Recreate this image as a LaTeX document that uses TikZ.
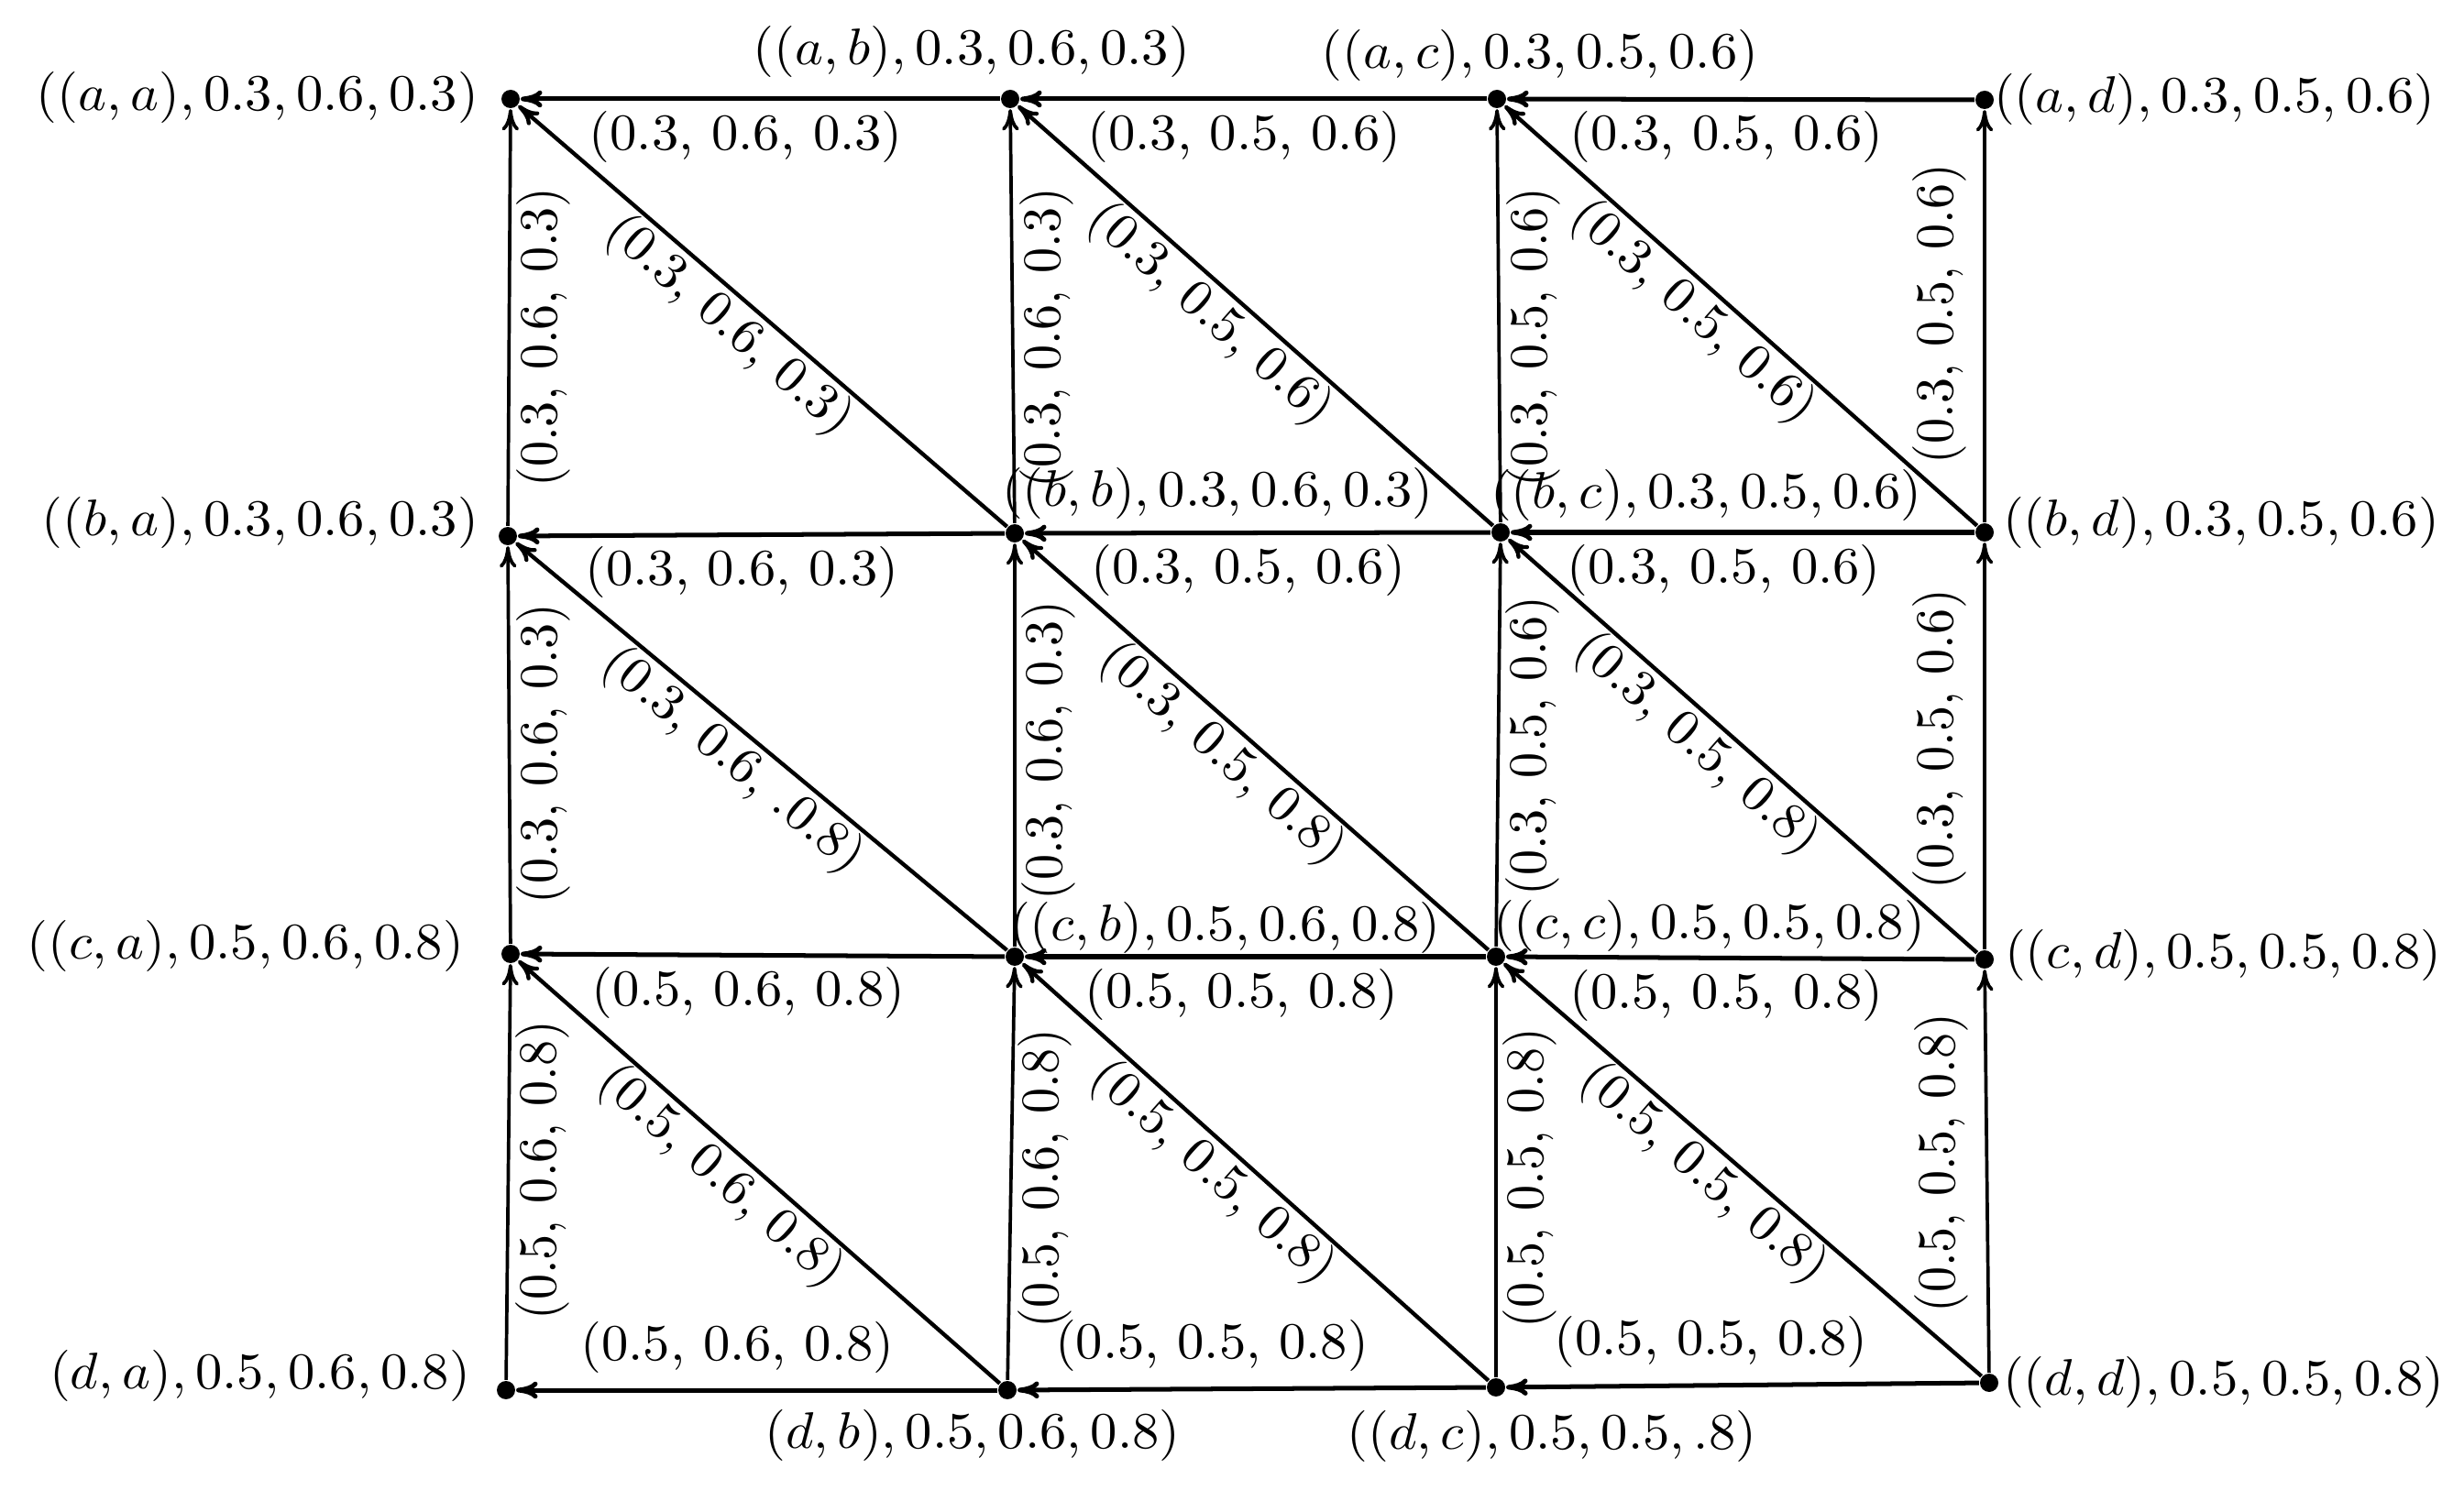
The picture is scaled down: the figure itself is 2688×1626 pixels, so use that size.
\documentclass[tikz,border=0pt]{standalone}
\usetikzlibrary{arrows.meta}
\begin{document}
\begin{tikzpicture}[x=0.006452cm,y=-0.006452cm,
  dot/.style={circle,fill=black,inner sep=0pt,minimum size=0.129cm},
  tip/.style={-{Computer Modern Rightarrow[length=4.3pt,width=3.4pt]}},
  harr/.style={tip,line width=0.92pt},
  varr/.style={tip,line width=0.68pt},
  darr/.style={tip,line width=0.8pt},
  hlab/.style={scale=1.03,xscale=1.045,anchor=north,inner sep=1.9pt},
  hlabup/.style={scale=1.03,xscale=1.045,anchor=south,inner sep=2.9pt},
  vlab/.style={rotate=90,scale=1.03,yscale=1.045,anchor=north,inner sep=1pt},
  vlabl/.style={rotate=90,scale=1.03,yscale=1.045,anchor=south,inner sep=3.1pt},
  dlab/.style={sloped,scale=1.03,xscale=1.03,anchor=north,inner sep=0.3pt},
  nlab/.style={scale=1.03,xscale=1.045,inner sep=0pt}]
\useasboundingbox (0,0) rectangle (2688,1626);

% vertices
\node[dot] (aa) at (557,108) {};
\node[dot] (ab) at (1102,108) {};
\node[dot] (ac) at (1633,108) {};
\node[dot] (ad) at (2165,109) {};
\node[dot] (ba) at (554,585) {};
\node[dot] (bb) at (1107,582) {};
\node[dot] (bc) at (1637,581) {};
\node[dot] (bd) at (2165,581) {};
\node[dot] (ca) at (557,1041) {};
\node[dot] (cb) at (1107,1044) {};
\node[dot] (cc) at (1632,1044) {};
\node[dot] (cd) at (2165,1047) {};
\node[dot] (da) at (552,1517) {};
\node[dot] (db) at (1099,1517) {};
\node[dot] (dc) at (1632,1514) {};
\node[dot] (dd) at (2170,1509) {};

% vertex labels
\node[nlab,anchor=east] (Laa) at (523,106) {$((a,a),0.3,0.6,0.3)$};
\node[nlab] (Lab) at (1060,56) {$((a,b),0.3,0.6,0.3)$};
\node[nlab] (Lac) at (1680,60) {$((a,c),0.3,0.5,0.6)$};
\node[nlab,anchor=west] (Lad) at (2174,108) {$((a,d),0.3,0.5,0.6)$};
\node[nlab,anchor=east] (Lba) at (523,570) {$((b,a),0.3,0.6,0.3)$};
\node[nlab,anchor=west] (Lbb) at (1092,538) {$((b,b),0.3,0.6,0.3)$};
\node[nlab,anchor=west] (Lbc) at (1625,540) {$((b,c),0.3,0.5,0.6)$};
\node[nlab,anchor=west] (Lbd) at (2184,570) {$((b,d),0.3,0.5,0.6)$};
\node[nlab,anchor=east] (Lca) at (507,1032) {$((c,a),0.5,0.6,0.8)$};
\node[nlab,anchor=west] (Lcb) at (1100,1012) {$((c,b),0.5,0.6,0.8)$};
\node[nlab,anchor=west] (Lcc) at (1628,1010) {$((c,c),0.5,0.5,0.8)$};
\node[nlab,anchor=west] (Lcd) at (2186,1042) {$((c,d),0.5,0.5,0.8)$};
\node[nlab,anchor=east] (Lda) at (514,1501) {$(d,a),0.5,0.6,0.8)$};
\node[nlab] (Ldb) at (1061,1566) {$(d,b),0.5,0.6,0.8)$};
\node[nlab] (Ldc) at (1693,1567) {$((d,c),0.5,0.5,.8)$};
\node[nlab,anchor=west] (Ldd) at (2184,1508) {$((d,d),0.5,0.5,0.8)$};

% horizontal edges
\draw[harr] (ab) -- node[hlab,pos=0.53] (h1) {(0.3, 0.6, 0.3)} (aa);
\draw[harr] (ac) -- node[hlab,pos=0.52] (h2) {(0.3, 0.5, 0.6)} (ab);
\draw[harr] (ad) -- node[hlab,pos=0.53] (h3) {(0.3, 0.5, 0.6)} (ac);
\draw[harr] (bb) -- node[hlab,pos=0.54] (h4) {(0.3, 0.6, 0.3)} (ba);
\draw[harr] (bc) -- node[hlab,pos=0.52] (h5) {(0.3, 0.5, 0.6)} (bb);
\draw[harr] (bd) -- node[hlab,pos=0.54] (h6) {(0.3, 0.5, 0.6)} (bc);
\draw[harr] (cb) -- node[hlab,pos=0.53] (h7) {(0.5, 0.6, 0.8)} (ca);
\draw[harr] (cc) -- node[hlab,pos=0.53] (h8) {(0.5, 0.5, 0.8)} (cb);
\draw[harr] (cd) -- node[hlab,pos=0.53] (h9) {(0.5, 0.5, 0.8)} (cc);
\draw[harr] (db) -- node[hlabup,pos=0.54] (h10) {(0.5, 0.6, 0.8)} (da);
\draw[harr] (dc) -- node[hlabup,pos=0.585] (h11) {(0.5, 0.5, 0.8)} (db);
\draw[harr] (dd) -- node[hlabup,pos=0.567] (h12) {(0.5, 0.5, 0.8)} (dc);

% vertical edges
\draw[varr] (ba) -- node[vlab,pos=0.453] (v1) {(0.3, 0.6, 0.3)} (aa);
\draw[varr] (ca) -- node[vlab,pos=0.478] (v2) {(0.3, 0.6, 0.3)} (ba);
\draw[varr] (da) -- node[vlab,pos=0.504] (v3) {(0.5, 0.6, 0.8)} (ca);
\draw[varr] (bb) -- node[vlab,pos=0.448] (v4) {(0.3, 0.6, 0.3)} (ab);
\draw[varr] (cb) -- node[vlab,pos=0.486] (v5) {(0.3, 0.6, 0.3)} (bb);
\draw[varr] (db) -- node[vlab,pos=0.488] (v6) {(0.5, 0.6, 0.8)} (cb);
\draw[varr] (bc) -- node[vlab,pos=0.448] (v7) {(0.3, 0.5, 0.6)} (ac);
\draw[varr] (cc) -- node[vlab,pos=0.497] (v8) {(0.3, 0.5, 0.6)} (bc);
\draw[varr] (dc) -- node[vlab,pos=0.485] (v9) {(0.5, 0.5, 0.8)} (cc);
\draw[varr] (bd) -- node[vlabl,pos=0.505] (v10) {(0.3, 0.5, 0.6)} (ad);
\draw[varr] (cd) -- node[vlabl,pos=0.517] (v11) {(0.3, 0.5, 0.6)} (bd);
\draw[varr] (dd) -- node[vlabl,pos=0.52] (v12) {(0.5, 0.5, 0.8)} (cd);

% diagonal edges
\draw[darr] (bb) -- node[dlab,pos=0.53] (d1) {(0.3, 0.6, 0.3)} (aa);
\draw[darr] (bc) -- node[dlab,pos=0.555] (d2) {(0.3, 0.5, 0.6)} (ab);
\draw[darr] (bd) -- node[dlab,pos=0.56] (d3) {(0.3, 0.5, 0.6)} (ac);
\draw[darr] (cb) -- node[dlab,pos=0.52] (d4) {(0.3, 0.6, .0.8)} (ba);
\draw[darr] (cc) -- node[dlab,pos=0.53] (d5) {(0.3, 0.5, 0.8)} (bb);
\draw[darr] (cd) -- node[dlab,pos=0.557] (d6) {(0.3, 0.5, 0.8)} (bc);
\draw[darr] (db) -- node[dlab,pos=0.54] (d7) {(0.5, 0.6, 0.8)} (ca);
\draw[darr] (dc) -- node[dlab,pos=0.55] (d8) {(0.5, 0.5, 0.8)} (cb);
\draw[darr] (dd) -- node[dlab,pos=0.543] (d9) {(0.5, 0.5, 0.8)} (cc);
\end{tikzpicture}
\end{document}
